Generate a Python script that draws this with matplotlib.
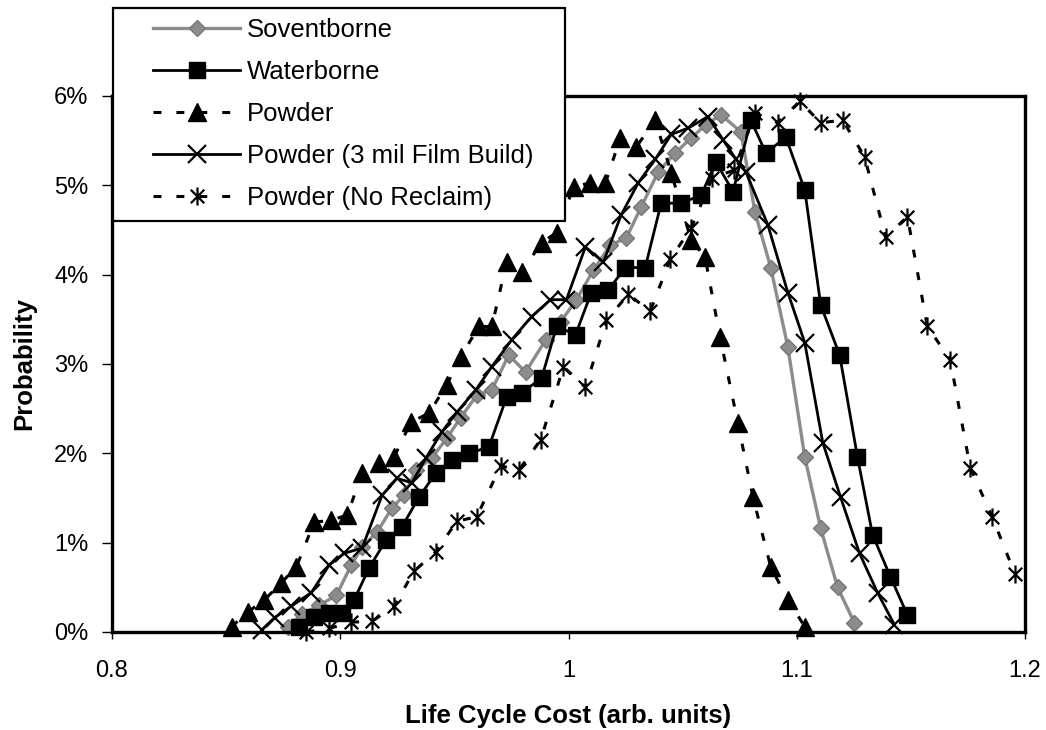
import matplotlib
matplotlib.use("Agg")
import matplotlib.pyplot as plt
from matplotlib.path import Path
from matplotlib.patches import Rectangle
from matplotlib.ticker import FuncFormatter

plt.rcParams["font.family"] = "Liberation Sans"

# ---- data (x = life cycle cost, y = probability in %) ----
solvent_x = [0.8769, 0.8834, 0.8908, 0.8983, 0.9048, 0.9096, 0.9162, 0.9227, 0.9279, 0.9332,
             0.9402, 0.9467, 0.9528, 0.9598, 0.9664, 0.9738, 0.9812, 0.9900, 0.9965, 1.0035,
             1.0109, 1.0183, 1.0253, 1.0319, 1.0393, 1.0467, 1.0537, 1.0603, 1.0668, 1.0755,
             1.0817, 1.0886, 1.0961, 1.1035, 1.1105, 1.1179, 1.1253]
solvent_y = [0.06, 0.20, 0.30, 0.41, 0.75, 0.95, 1.12, 1.39, 1.53, 1.81,
             1.95, 2.17, 2.40, 2.65, 2.71, 3.10, 2.91, 3.27, 3.47, 3.72,
             4.05, 4.33, 4.41, 4.76, 5.15, 5.36, 5.53, 5.68, 5.79, 5.60,
             4.70, 4.08, 3.19, 1.96, 1.16, 0.50, 0.10]

water_x = [0.8821, 0.8886, 0.8952, 0.9009, 0.9061, 0.9127, 0.9201, 0.9271, 0.9345, 0.9419,
           0.9489, 0.9563, 0.9651, 0.9729, 0.9795, 0.9882, 0.9948, 1.0031, 1.0100, 1.0175,
           1.0249, 1.0336, 1.0406, 1.0493, 1.0581, 1.0646, 1.0721, 1.0799, 1.0865, 1.0952,
           1.1035, 1.1105, 1.1188, 1.1266, 1.1332, 1.1410, 1.1485]
water_y = [0.06, 0.17, 0.21, 0.21, 0.36, 0.72, 1.03, 1.18, 1.51, 1.78,
           1.93, 2.00, 2.07, 2.63, 2.68, 2.84, 3.42, 3.33, 3.80, 3.83,
           4.08, 4.08, 4.80, 4.80, 4.89, 5.26, 4.93, 5.73, 5.36, 5.54,
           4.95, 3.66, 3.10, 1.96, 1.09, 0.62, 0.19]

powder_x = [0.8524, 0.8594, 0.8668, 0.8742, 0.8808, 0.8886, 0.8961, 0.9031, 0.9096, 0.9170,
            0.9236, 0.9310, 0.9389, 0.9467, 0.9528, 0.9607, 0.9664, 0.9729, 0.9795, 0.9882,
            0.9948, 1.0022, 1.0096, 1.0162, 1.0227, 1.0297, 1.0380, 1.0450, 1.0537, 1.0598,
            1.0664, 1.0742, 1.0808, 1.0886, 1.0961, 1.1035]
powder_y = [0.06, 0.22, 0.36, 0.55, 0.73, 1.23, 1.25, 1.31, 1.78, 1.89,
            1.96, 2.35, 2.45, 2.77, 3.08, 3.42, 3.42, 4.14, 4.03, 4.36,
            4.47, 4.98, 5.03, 5.03, 5.53, 5.43, 5.73, 5.14, 4.39, 4.20,
            3.30, 2.34, 1.51, 0.73, 0.36, 0.06]

film_x = [0.8655, 0.8712, 0.8786, 0.8873, 0.8952, 0.9017, 0.9096, 0.9183, 0.9249, 0.9314,
          0.9376, 0.9445, 0.9511, 0.9594, 0.9664, 0.9751, 0.9838, 0.9921, 0.9991, 1.0074,
          1.0153, 1.0231, 1.0306, 1.0380, 1.0450, 1.0524, 1.0611, 1.0677, 1.0734, 1.0777,
          1.0873, 1.0961, 1.1035, 1.1114, 1.1192, 1.1275, 1.1354, 1.1428]
film_y = [0.02, 0.16, 0.29, 0.44, 0.75, 0.88, 0.94, 1.53, 1.72, 1.67,
          1.95, 2.24, 2.46, 2.71, 2.97, 3.27, 3.53, 3.72, 3.72, 4.31,
          4.14, 4.67, 5.03, 5.29, 5.57, 5.64, 5.77, 5.51, 5.29, 5.15,
          4.56, 3.80, 3.24, 2.12, 1.51, 0.88, 0.44, 0.08]

noreclaim_x = [0.8852, 0.8952, 0.9048, 0.9140, 0.9236, 0.9323, 0.9419, 0.9511, 0.9598, 0.9703,
               0.9782, 0.9878, 0.9978, 1.0074, 1.0166, 1.0262, 1.0358, 1.0445, 1.0537, 1.0629,
               1.0725, 1.0817, 1.0917, 1.1013, 1.1105, 1.1201, 1.1297, 1.1389, 1.1485, 1.1572,
               1.1672, 1.1760, 1.1856, 1.1956]
noreclaim_y = [0.00, 0.04, 0.11, 0.12, 0.29, 0.68, 0.90, 1.24, 1.29, 1.86,
               1.81, 2.15, 2.97, 2.74, 3.49, 3.78, 3.59, 4.17, 4.52, 5.08,
               5.17, 5.81, 5.70, 5.94, 5.70, 5.73, 5.32, 4.42, 4.65, 3.42,
               3.05, 1.84, 1.29, 0.65]

x_ticks = [0.8, 0.9, 1.0, 1.1, 1.2]
y_ticks = [0, 1, 2, 3, 4, 5, 6]

# Excel-style star marker: an X with a vertical bar through it
STAR = Path([(0, -1), (0, 1), (-0.75, -0.75), (0.75, 0.75), (-0.75, 0.75), (0.75, -0.75)],
            [Path.MOVETO, Path.LINETO, Path.MOVETO, Path.LINETO, Path.MOVETO, Path.LINETO])
DASH = (0, (2.6, 4.9))
GRAY = "#8c8c8c"

W, H = 1046, 730
fig = plt.figure(figsize=(W / 100, H / 100), dpi=100)
ax = fig.add_axes([112 / W, (H - 632) / H, (1025 - 112) / W, (632 - 96) / H])

ax.plot(solvent_x, solvent_y, "-", color=GRAY, lw=2.4, marker="D", ms=8,
        mfc=GRAY, mec="#777777", clip_on=False, label="Soventborne")
ax.plot(water_x, water_y, "-", color="black", lw=2, marker="s", ms=12,
        mfc="black", mec="black", clip_on=False, label="Waterborne")
ax.plot(powder_x, powder_y, color="black", lw=2.2, ls=DASH, marker="^", ms=13,
        mfc="black", mec="black", clip_on=False, label="Powder")
ax.plot(film_x, film_y, "-", color="black", lw=2, marker="x", ms=13, mew=1.6,
        mec="black", clip_on=False, label="Powder (3 mil Film Build)")
ax.plot(noreclaim_x, noreclaim_y, color="black", lw=2.2, ls=DASH, marker=STAR, ms=13,
        mew=1.6, mec="black", clip_on=False, label="Powder (No Reclaim)")

ax.set_xlim(0.8, 1.2)
ax.set_ylim(0, 6)
ax.set_xticks(x_ticks)
ax.set_yticks(y_ticks)
ax.xaxis.set_major_formatter(FuncFormatter(lambda v, _: f"{v:g}"))
ax.yaxis.set_major_formatter(FuncFormatter(lambda v, _: f"{v:.0f}%"))
ax.tick_params(axis="y", direction="out", length=7, width=1, pad=10, labelsize=17)
ax.tick_params(axis="x", direction="out", length=5, width=1, pad=15, labelsize=17)
for s in ax.spines.values():
    s.set_linewidth(2.4)

ax.set_xlabel("Life Cycle Cost (arb. units)", fontsize=18.5, fontweight="bold", labelpad=16)
ax.set_ylabel("Probability", fontsize=18.5, fontweight="bold", labelpad=13)

# legend box sits partly above the plot area, white and framed
fig.add_artist(Rectangle((113 / W, 1 - 221 / H), (565 - 113) / W, (221 - 8) / H,
                         transform=fig.transFigure, fc="white", ec="black", lw=1.6, zorder=4))
handles, labels = ax.get_legend_handles_labels()
leg = fig.legend(handles, labels, loc="center left", bbox_to_anchor=(153 / W, 1 - 114 / H),
                 frameon=False, fontsize=18.5, numpoints=1, handlelength=3.4,
                 handletextpad=0.27, labelspacing=0.70, borderpad=0, borderaxespad=0)
leg.set_zorder(5)

fig.savefig("out.png", dpi=100)
